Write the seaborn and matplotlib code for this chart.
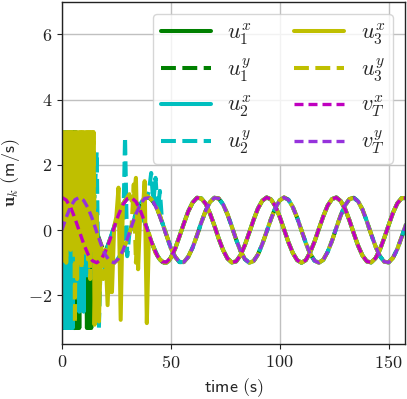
import numpy as np
import seaborn as sns
import matplotlib.pyplot as plt

# sampling times
t_noise = np.arange(0, 15, 0.5)      # 0 .. 14.5
t_settle = np.arange(15, 51, 1)      # 15 .. 50
t_target = np.arange(0, 160, 2)      # 0 .. 158

# target velocity
vT_x = [1.00, 0.92, 0.70, 0.36, -0.03, -0.42, -0.74, -0.94, -1.00, -0.90,
        -0.65, -0.31, 0.09, 0.47, 0.78, 0.96, 0.99, 0.87, 0.61, 0.25,
        -0.15, -0.52, -0.81, -0.97, -0.98, -0.84, -0.57, -0.19, 0.20, 0.57,
        0.84, 0.99, 0.97, 0.81, 0.51, 0.14, -0.26, -0.61, -0.87, -0.99,
        -0.96, -0.77, -0.46, -0.08, 0.31, 0.66, 0.90, 1.00, 0.94, 0.73,
        0.41, 0.02, -0.37, -0.70, -0.92, -1.00, -0.92, -0.68, -0.35, 0.04,
        0.42, 0.75, 0.95, 1.00, 0.89, 0.65, 0.30, -0.10, -0.48, -0.78,
        -0.96, -0.99, -0.86, -0.60, -0.24, 0.15, 0.53, 0.82, 0.98, 0.98]
vT_y = [0.00, 0.39, 0.72, 0.93, 1.00, 0.91, 0.68, 0.34, -0.06, -0.44,
        -0.76, -0.95, -1.00, -0.88, -0.63, -0.28, 0.12, 0.49, 0.79, 0.97,
        0.99, 0.86, 0.59, 0.22, -0.17, -0.54, -0.82, -0.98, -0.98, -0.82,
        -0.54, -0.17, 0.23, 0.59, 0.86, 0.99, 0.97, 0.79, 0.49, 0.11,
        -0.29, -0.64, -0.89, -1.00, -0.95, -0.75, -0.43, -0.05, 0.34, 0.68,
        0.91, 1.00, 0.93, 0.71, 0.38, -0.01, -0.40, -0.73, -0.94, -1.00,
        -0.91, -0.67, -0.33, 0.07, 0.45, 0.76, 0.95, 0.99, 0.88, 0.63,
        0.27, -0.13, -0.50, -0.80, -0.97, -0.99, -0.85, -0.58, -0.21, 0.18]

# agent velocities, saturated phase (t < 15 s)
u1x_noise = [-2.3, -3, 3, -3, 3, -3, 3, -3, 3, -3, 3, -3, -3, 0.6, -3,
             0.4, -3, 0.5, -0.8, 0.3, -1.0, 0.5, -0.3, -3, -0.3, -3, -0.4, -3, 0.5, -0.5]
u1y_noise = [0, 3, -3, 3, -3, 3, -3, 3, -3, 3, -3, 3, -3, 3, -2.5,
             2, -1.5, 1, -1, 1.5, -2, 1, -1, 0.5, -2.8, 2, -1, 0.5, -0.5, 0.3]
u2x_noise = [1.2, 3, -3, 3, -3, 3, -3, 3, -3, 3, -3, 2.5, -1.5, 1, -2,
             1.5, -2.5, 2, -1, 0.5, -2.5, 1, -0.5, 2, -1, 0.8, -0.3, 1.5, -0.6, 0.5]
u2y_noise = [0, 3, -3, 3, -3, 3, -3, 3, -3, 2, -2, 1.5, -2, 1, -1.5,
             2, -1, 0.5, -2, 1, -1, 2, -0.5, 1, -1.5, 0.5, -1, 2.7, 2.1, 1]
u3x_noise = [0.5, 3, -0.5, 3, -1, 3, -0.3, 3, -0.6, 3, -0.2, 3, -0.5, 3, -1.5,
             3, -0.4, 3, -0.8, 3, -0.3, 3, -0.6, 3, -0.9, 3, -0.5, 3, -0.2, 3]
u3y_noise = [0, 3, -1, 3, -0.8, 3, -0.5, 3, -0.6, 3, -0.5, 3, -2.85, 3, -1,
             3, -0.4, 3, -1.2, 3, -0.5, 3, -0.7, 3, -0.3, 3, -1.5, 3, -0.6, 3]

# settling phase (15 .. 50 s)
u1x_settle = [-2.8, -1.0, -0.97, -0.9, -0.79, -0.65, -0.49, -0.31, -0.12, 0.09,
              0.28, 0.47, 0.63, 0.78, 0.89, 0.96, 1.0, 0.99, 0.95, 0.87,
              0.75, 0.61, 0.44, 0.25, 0.06, -0.15, -0.34, -0.51, -0.67, -0.8,
              -0.9, -0.97, -1.0, -0.99, -0.94, -0.84]
u1y_settle = [0.14, -0.06, -0.25, -0.44, -0.61, -0.76, -0.87, -0.95, -0.99, -1.0,
              -0.96, -0.88, -0.77, -0.63, -0.46, -0.28, -0.08, 0.12, 0.32, 0.49,
              0.66, 0.79, 0.9, 0.97, 1.0, 0.99, 0.94, 0.86, 0.74, 0.6,
              0.43, 0.24, 0.05, -0.15, -0.35, -0.54]
u2x_settle = [-1.5, 0.5, -2.0, -0.9, -0.8, -1.2, -0.5, -0.3, -0.1, 0.1,
              0.3, 0.5, 0.6, 0.8, 0.9, 1.0, 1.0, 1.0, 0.95, 0.85,
              0.75, 0.6, 0.45, 0.25, 0.05, -0.15, -0.35, -0.5, -0.65, -0.8,
              -0.9, -0.95, -1.0, -1.0, -0.95, -0.85]
u2y_settle = [1.0, 2.4, -3.0, -0.5, -0.6, -0.75, -0.85, -0.95, -1.0, -1.0,
              -0.95, -0.85, -0.75, -0.6, 2.85, -0.8, -0.1, 0.1, 0.3, 0.5,
              0.65, 0.8, 0.9, 0.95, 1.0, 1.2, 1.75, 0.85, 1.6, 0.6,
              1.2, 0.25, 0.05, -0.15, -0.35, -0.55]
u3x_settle = [-2.9, 0.5, -2.8, -0.5, -1.0, -0.6, -2.3, -0.3, -1.9, 0.1,
              0.4, 1.3, -2.75, 0.8, 0.9, 1.0, 1.1, 0.9, 1.0, 1.6,
              -1.2, 0.6, 0.4, 1.5, -2.85, -0.1, -0.35, -0.5, -0.7, -0.8,
              -0.9, -0.95, -1.0, -1.0, -0.95, -0.85]
u3y_settle = [0.1, -2.0, -0.3, -0.45, -1.5, -0.8, -0.9, -1.9, -1.0, -1.0,
              -0.95, -0.9, -0.8, -0.6, -0.45, -0.3, -0.1, 0.1, 1.4, -1.0,
              0.65, 0.8, 0.9, 1.0, 1.05, 1.0, 0.95, 0.85, 0.75, 0.6,
              0.45, 0.25, 0.05, -0.15, -0.35, -0.55]

# after ~50 s every agent sits on the target curve
n_tail = 26
time_u = np.concatenate([t_noise, t_settle, t_target[n_tail:]])

def agent(noise, settle, target):
    return noise + settle + target[n_tail:]

series = [
    (agent(u1x_noise, u1x_settle, vT_x), 'green', '-', r'$u_1^x$'),
    (agent(u1y_noise, u1y_settle, vT_y), 'green', '--', r'$u_1^y$'),
    (agent(u2x_noise, u2x_settle, vT_x), 'c', '-', r'$u_2^x$'),
    (agent(u2y_noise, u2y_settle, vT_y), 'c', '--', r'$u_2^y$'),
    (agent(u3x_noise, u3x_settle, vT_x), 'y', '-', r'$u_3^x$'),
    (agent(u3y_noise, u3y_settle, vT_y), 'y', '--', r'$u_3^y$'),
]

sns.set_style('ticks')
plt.rcParams['font.family'] = ['serif']
plt.rcParams['font.serif'] = ['cmr10', 'DejaVu Serif']
plt.rcParams['mathtext.fontset'] = 'cm'
plt.rcParams['axes.formatter.use_mathtext'] = True
plt.rcParams['axes.unicode_minus'] = True

fig, ax = plt.subplots(figsize=(4.07, 3.99), dpi=100)
fig.subplots_adjust(left=0.152, right=0.995, bottom=0.137, top=0.996)

for vals, col, ls, lab in series:
    sns.lineplot(x=time_u, y=vals, ax=ax, color=col, linestyle=ls,
                 linewidth=2.9, label=lab, sort=False, estimator=None)

sns.lineplot(x=t_target, y=vT_x, ax=ax, color='m', linestyle=(0, (2.7, 1.5)),
             linewidth=2.4, label=r'$v_T^x$', sort=False, estimator=None)
sns.lineplot(x=t_target, y=vT_y, ax=ax, color='#9632dc', linestyle=(0, (2.7, 1.5)),
             linewidth=2.4, label=r'$v_T^y$', sort=False, estimator=None)

ax.set_xlim(0, 157.5)
ax.set_ylim(-3.5, 7)
ax.set_xticks([0, 50, 100, 150])
ax.set_yticks([-2, 0, 2, 4, 6])
ax.grid(True, color='#c0c0c0', linewidth=1.0)
ax.set_axisbelow(True)
for s in ax.spines.values():
    s.set_color('#222222')
    s.set_linewidth(1.0)
ax.tick_params(direction='out', length=3.5, width=0.8, labelsize=13, colors='#222222')

ax.set_xlabel(r'$\mathsf{time\ (s)}$', fontsize=13)
ax.set_ylabel(r'$\mathbf{u}_k\ \mathsf{(m/s)}$', fontsize=13)

ax.legend(ncol=2, loc='upper right', fontsize=16, handlelength=2.25,
          handletextpad=0.75, columnspacing=1.9, labelspacing=0.45,
          borderaxespad=0.55, borderpad=0.35, framealpha=0.8,
          edgecolor='0.8', fancybox=True)

fig.savefig('out.png', dpi=100)
